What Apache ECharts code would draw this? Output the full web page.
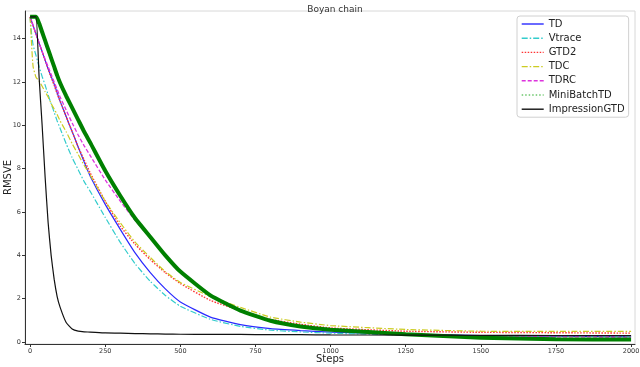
<!DOCTYPE html>
<html><head><meta charset="utf-8">
<script src="https://cdn.jsdelivr.net/npm/echarts@6/dist/echarts.min.js"></script>
<style>html,body{margin:0;padding:0;background:#fff}#c{width:640px;height:367px}</style>
</head><body><div id="c"></div>
<script>
const steps = [0,5,10,20,30,40,50,60,70,80,90,100,120,140,160,180,200,250,300,350,400,450,500,600,700,800,900,1000,1250,1500,1750,2000];
const td = [15,14.8,14.6,14.2,13.8,13.4,13.0,12.6,12.25,11.9,11.5,11.1,10.4,9.7,9.0,8.3,7.65,6.35,5.2,4.1,3.2,2.45,1.85,1.15,0.8,0.62,0.53,0.46,0.36,0.3,0.27,0.25];
const vtrace = [15,14.2,13.7,13.2,12.7,12.25,11.85,11.4,11.0,10.6,10.2,9.85,9.15,8.5,7.95,7.4,6.95,5.75,4.6,3.6,2.8,2.15,1.65,1.05,0.72,0.55,0.47,0.41,0.33,0.28,0.26,0.25];
const gtd2 = [15,14.8,14.6,14.2,13.8,13.4,13.0,12.6,12.2,11.85,11.45,11.1,10.4,9.7,9.0,8.4,7.8,6.5,5.35,4.5,3.8,3.2,2.7,1.92,1.45,1.05,0.82,0.65,0.5,0.45,0.43,0.41];
const tdc = [15,13.7,12.7,12.2,12.05,11.8,11.55,11.3,11.0,10.75,10.5,10.2,9.7,9.15,8.65,8.15,7.7,6.5,5.5,4.6,3.9,3.25,2.75,2.1,1.6,1.15,0.92,0.76,0.58,0.5,0.49,0.49];
const tdrc = [15,14.8,14.6,14.2,13.8,13.4,13.05,12.7,12.35,12.0,11.65,11.3,10.7,10.1,9.55,9.05,8.6,7.48,6.5,5.6,4.8,4.0,3.25,2.15,1.45,1.0,0.72,0.55,0.33,0.26,0.24,0.23];
const miniBatchTD = [15,15,15,15,14.7,14.3,13.9,13.5,13.1,12.7,12.3,11.95,11.35,10.8,10.25,9.7,9.2,7.9,6.75,5.7,4.85,4.0,3.25,2.15,1.45,0.98,0.72,0.57,0.36,0.2,0.13,0.12];
const impressionGTD = [15,15,15,15,12.2,10.0,7.6,5.5,4.0,2.9,2.1,1.6,0.9,0.6,0.5,0.47,0.46,0.42,0.41,0.39,0.38,0.37,0.36,0.35,0.35,0.34,0.34,0.33,0.32,0.31,0.3,0.3];
const xTicks = [0,250,500,750,1000,1250,1500,1750,2000];
const yTicks = [0,2,4,6,8,10,12,14];
const names = ['TD','Vtrace','GTD2','TDC','TDRC','MiniBatchTD','ImpressionGTD'];

const pairs = v => steps.map((s,i)=>[s,v[i]]);
const FONT = 'DejaVu Sans';
const defs = [
  {v: td, color:'#2a2aff', type:'solid', width:1.2},
  {v: vtrace, color:'#33cccc', type:[6,2,1.5,2], width:1.2},
  {v: gtd2, color:'#ff3333', type:[1.5,1.5], width:1.4},
  {v: tdc, color:'#cccc22', type:[6,2,1.5,2], width:1.2},
  {v: tdrc, color:'#dd33dd', type:[4,2], width:1.3},
  {v: miniBatchTD, color:'#008000', type:'solid', width:4},
  {v: impressionGTD, color:'#111111', type:'solid', width:1.2}
];
const series = defs.map((d,i)=>({
  name: names[i], type:'line', data: pairs(d.v), showSymbol:false, symbol:'none',
  smooth: 0.15,
  lineStyle:{color:d.color, type:d.type, width:d.width},
  itemStyle:{color:d.color}, animation:false
}));
const legendData = names.map((n,i)=>{
  const o = {name:n, itemStyle:{opacity:0}};
  if (n==='MiniBatchTD') o.lineStyle = {width:1, type:[1.5,2], color:'#22aa22'};
  else o.lineStyle = {width:1.4, type:defs[i].type, color:defs[i].color};
  return o;
});
const chart = echarts.init(document.getElementById('c'), null, {renderer:'canvas'});
chart.setOption({
  backgroundColor:'#fff',
  animation:false,
  title:{text:'Boyan chain', left:330, top:0, textAlign:'center',
    textStyle:{fontFamily:FONT, fontSize:9, fontWeight:'normal', color:'#333'}},
  grid:{left:25, right:5, top:11, bottom:23, containLabel:false, outerBoundsMode:'none',
    show:true, borderColor:'#d8d8d8', borderWidth:1, backgroundColor:'#fff'},
  legend:{orient:'vertical', left:517, top:16, data:legendData,
    itemWidth:22, itemHeight:10, itemGap:4.2, padding:[3,4,3,4],
    backgroundColor:'rgba(255,255,255,0.85)', borderColor:'#d0d0d0', borderWidth:1, borderRadius:3,
    textStyle:{fontFamily:FONT, fontSize:10, color:'#222'}},
  xAxis:{type:'value', min:-17, max:2013, name:'Steps', nameLocation:'middle', nameGap:10, nameMoveOverlap:false,
    nameTextStyle:{fontFamily:FONT, fontSize:10, color:'#222'},
    axisLine:{show:true, onZero:false, lineStyle:{color:'#333', width:1}},
    axisTick:{show:true, length:3, customValues:xTicks, lineStyle:{color:'#333'}},
    axisLabel:{customValues:xTicks, formatter: v => String(v), fontFamily:FONT, fontSize:6.5, color:'#333', margin:4},
    splitLine:{show:false}},
  yAxis:{type:'value', min:-0.09, max:15.27, name:'RMSVE', nameLocation:'middle', nameGap:12, nameMoveOverlap:false,
    nameTextStyle:{fontFamily:FONT, fontSize:10, color:'#222'},
    axisLine:{show:true, onZero:false, lineStyle:{color:'#333', width:1}},
    axisTick:{show:true, length:3, customValues:yTicks, lineStyle:{color:'#333'}},
    axisLabel:{customValues:yTicks, formatter: v => String(v), fontFamily:FONT, fontSize:6.5, color:'#333', margin:4},
    splitLine:{show:false}},
  series: series
});
</script></body></html>
